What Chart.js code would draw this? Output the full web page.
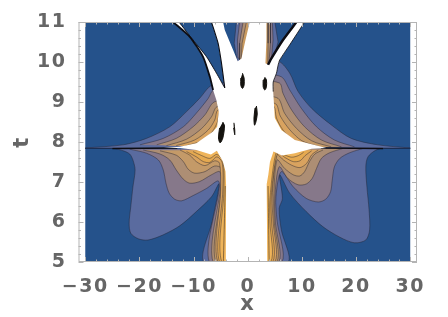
<!DOCTYPE html>
<html>
<head>
<meta charset="utf-8">
<style>
html, body { margin: 0; padding: 0; background: #fff; }
#wrap { width: 448px; height: 317px; }
</style>
<script src="https://cdn.jsdelivr.net/npm/chart.js@4"></script>
</head>
<body>
<div id="wrap"><canvas id="c"></canvas></div>
<script>
const xTicks = [-30, -20, -10, 0, 10, 20, 30];
const yTicks = [5, 6, 7, 8, 9, 10, 11];
const levelColors = ["#5a6b9f", "#86788a", "#ad8e74", "#c49a68", "#d9a35f", "#e5a950", "#efb45a"];

// contour bands, one list per level, outermost first
const lowerLeft = [
  [[-30,7.84],[-24.8,7.84],[-23,7.78],[-21.8,7.7],[-21.2,7.55],[-20.8,7.3],[-21.2,6.88],[-21.6,6.38],[-21.9,5.97],[-21.6,5.72],[-20.2,5.58],[-18.4,5.55],[-15.6,5.68],[-12.5,5.91],[-9.5,6.26],[-6.7,6.63],[-5.3,6.95],[-6.5,6.05],[-8.1,5],[0,5],[0,7.84]],
  [[-21.8,7.82],[-18.7,7.72],[-16.5,7.55],[-15.6,7.3],[-15.1,6.97],[-14.5,6.72],[-13.5,6.57],[-12.2,6.53],[-10.1,6.66],[-7.6,6.84],[-5.5,7.03],[-5.2,6.9],[-7.1,5],[0,5],[0,7.82]],
  [[-19.3,7.8],[-16.2,7.7],[-14.4,7.55],[-13.2,7.3],[-11.9,7.07],[-10.7,6.97],[-8.9,7.01],[-6.7,7.18],[-5.2,7.26],[-4.9,7],[-6.4,5],[0,5],[0,7.8]],
  [[-16.2,7.78],[-13.2,7.67],[-11.9,7.51],[-11,7.32],[-9.8,7.22],[-7.9,7.26],[-6.1,7.4],[-4.85,7.34],[-4.8,6.9],[-5.9,5],[0,5],[0,7.78]],
  [[-12.5,7.8],[-10.7,7.67],[-9.5,7.51],[-7.9,7.41],[-6.1,7.53],[-5.2,7.47],[-5,6.8],[-5.5,5],[0,5],[0,7.8]],
  [[-11.3,7.76],[-9.5,7.63],[-8.2,7.51],[-7,7.49],[-5.7,7.63],[-4.7,7.48],[-4.6,6.8],[-5.2,5],[0,5],[0,7.76]],
  [[-10.1,7.76],[-8.5,7.66],[-7,7.59],[-5.7,7.69],[-4.55,7.51],[-4.4,6.8],[-4.8,5],[0,5],[0,7.76]]
];
const lowerRight = [
  [[30,7.84],[25.6,7.86],[23.7,7.8],[22.2,7.63],[21.8,7.38],[22,6.88],[22.4,6.3],[22.5,5.8],[21.8,5.55],[19.7,5.48],[17,5.62],[13.9,5.88],[10.8,6.26],[7.75,6.72],[5.9,7.18],[6.4,6.59],[5.8,6.34],[6.2,5.8],[7.45,5],[0,5],[0,7.84]],
  [[21.3,7.84],[18.8,7.73],[17,7.59],[16,7.38],[15.6,7.05],[15.3,6.76],[14.4,6.57],[13,6.5],[10.8,6.59],[8.4,6.88],[6.2,7.26],[5.2,6.63],[5.4,6.05],[6.3,5],[0,5],[0,7.84]],
  [[17.6,7.84],[15.1,7.73],[13.6,7.59],[12.7,7.34],[11.9,7.09],[10.8,6.95],[9.3,6.93],[7.4,7.09],[5.8,7.38],[5,6.6],[5.1,6],[5.7,5],[0,5],[0,7.84]],
  [[13.9,7.8],[12.4,7.7],[11.4,7.51],[10.5,7.26],[9.6,7.15],[8.4,7.18],[6.8,7.34],[5.4,7.55],[4.8,6.6],[4.9,6],[5.35,5],[0,5],[0,7.8]],
  [[13,7.8],[11.8,7.68],[10.9,7.47],[9.65,7.36],[8.1,7.42],[6.6,7.55],[5.35,7.68],[4.5,6.6],[4.7,6],[5,5],[0,5],[0,7.8]],
  [[11.8,7.78],[10.6,7.66],[9.65,7.53],[8.4,7.51],[6.9,7.61],[5.5,7.72],[4.3,6.6],[4.4,6],[4.6,5],[0,5],[0,7.78]],
  [[10.3,7.74],[9.35,7.66],[8.1,7.62],[6.8,7.68],[5.35,7.78],[4.1,6.6],[4.1,6],[4.25,5],[0,5],[0,7.74]]
];
const upperLeft = [
  [[-30,7.85],[-23,7.93],[-18.7,8.09],[-14.4,8.38],[-11.3,8.76],[-8.9,9.09],[-6.6,9.42],[-3,9.42],[-3,7.85]],
  [[-19.9,7.93],[-15.6,8.09],[-11.9,8.38],[-9.5,8.72],[-7.3,9.09],[-6.3,9.3],[-3,9.3],[-3,7.85]],
  [[-16.8,7.93],[-13.2,8.09],[-10.1,8.38],[-7.9,8.68],[-6.2,9],[-3,9],[-3,7.85]],
  [[-15,7.91],[-11.3,8.07],[-8.5,8.34],[-6.7,8.63],[-5.7,8.88],[-3,8.88],[-3,7.85]],
  [[-13.2,7.91],[-9.8,8.05],[-7.3,8.3],[-6.1,8.55],[-5.5,8.8],[-3,8.8],[-3,7.85]],
  [[-11.5,7.9],[-8.5,8.03],[-6.6,8.25],[-5.6,8.5],[-5.1,8.75],[-3,8.75],[-3,7.85]],
  [[-9.5,7.9],[-7.2,8.02],[-5.8,8.2],[-5,8.45],[-4.8,8.7],[-3,8.7],[-3,7.85]]
];
const upperRight = [
  [[30,7.85],[24,7.93],[19.1,8.09],[15.4,8.43],[11.8,8.84],[9.3,9.26],[7.75,9.72],[5.8,10.01],[3,10.01],[3,7.85]],
  [[19.7,7.88],[16,8.05],[12.7,8.38],[9.9,8.84],[7.75,9.3],[6.2,9.63],[3,9.63],[3,7.85]],
  [[17.3,7.88],[13.6,8.05],[10.5,8.38],[8.1,8.8],[6.5,9.22],[5.9,9.47],[3,9.47],[3,7.85]],
  [[15.4,7.88],[11.8,8.03],[9,8.34],[6.8,8.72],[5.6,9.09],[3,9.09],[3,7.85]],
  [[13.2,7.88],[10,8.03],[7.8,8.3],[6,8.65],[5.2,8.95],[3,8.95],[3,7.85]],
  [[11,7.88],[8.4,8.02],[6.5,8.3],[5.3,8.6],[4.8,8.9],[3,8.9],[3,7.85]],
  [[9,7.88],[6.8,8.02],[5.5,8.25],[4.7,8.55],[4.5,8.8],[3,8.8],[3,7.85]]
];
// the narrow bands hanging from the top edge
const topWedgeLeft = [
  [[-2.1,11],[-2.5,10.47],[-1.9,10],[0.5,10],[0.5,11]],
  [[-1.5,11],[-1.9,10.55],[-1.8,10.1],[0.5,10],[0.5,11]],
  [[-0.87,11],[-1.5,10.47],[-1.5,10.05],[0.5,10],[0.5,11]],
  [[-0.25,11],[-1.05,10.47],[-1.2,10.05],[0.5,10],[0.5,11]]
];
const topWedgeRight = [
  [[5,11],[5.6,10.5],[5,10.2],[4.3,10.05],[3,9.9],[3,11]],
  [[4.55,11],[4.67,10.55],[4.4,10.1],[3,9.9],[3,11]],
  [[4.2,11],[4.2,10.47],[3.9,9.97],[3,9.9],[3,11]],
  [[3.75,11],[3.75,10.47],[3.7,9.95],[3,9.9],[3,11]]
];
const wedgeColors = ["#5a6b9f", "#86788a", "#ad8e74", "#c99a60"];

const plotBlue = [[-30,5],[30,5],[30,11],[-30,11]];
const whiteCore = [
  [-13.8,11],[-10.7,10.63],[-8.25,10.13],[-7,9.63],[-6.4,9.3],[-5.8,9.05],[-5.35,8.76],[-5.65,8.38],[-6.4,8.26],[-9.5,7.97],[-12.5,7.88],[-15.5,7.85],
  [-12.5,7.85],[-9.5,7.8],[-6.8,7.69],[-5.7,7.78],[-4.6,7.51],[-4.1,7.26],[-4,6.93],[-4.05,5],
  [3.6,5],[3.5,6.95],[3.8,7.18],[4.1,7.5],[4.75,7.76],[6.3,7.66],[8.7,7.72],[11.8,7.83],[14.5,7.85],
  [13.6,7.88],[8.7,8.05],[6.2,8.3],[5,8.6],[4.7,9.26],[4.7,9.5],[5.3,9.72],[5.6,9.92],[5.9,10.05],[7.75,10.43],[10.5,11],
  [9,11],[6.5,10.55],[4.37,10.09],[3.75,9.93],[3.27,9.97],[3.45,10.55],[3.45,11],
  [0.37,11],[-0.42,10.55],[-1.16,10.09],[-1.85,10.02],[-2.7,10.3],[-4.24,10.8],[-4.55,11],
  [-6.7,11],[-5.48,10.47],[-4.85,9.97],[-4.24,9.35],[-5.77,9.72],[-7.6,10.13],[-10.1,10.55],[-12.7,11]
];
// dark edges of the white branches
const darkEdges = [
  [[-13.8,11],[-10.7,10.63],[-8.25,10.13],[-7,9.63],[-6.4,9.3]],
  [[-12.7,11],[-10.1,10.55],[-7.6,10.13],[-5.77,9.72],[-4.24,9.35]],
  [[-6.7,11],[-5.48,10.47],[-4.85,9.97],[-4.24,9.35]],
  [[9,11],[6.5,10.55],[4.37,10.09],[3.75,9.93]],
  [[10.5,11],[7.75,10.43],[5.9,10.05],[5.6,9.92],[5.3,9.72],[4.7,9.5],[4.7,9.26]]
];
const darkEdgeWidths = [1.8, 0.9, 1.1, 2.4, 0.8];
const spikeEnds = [
  [[-30,7.84],[-25,7.84]],
  [[25,7.84],[30,7.84]]
];
const spikes = [
  [[-25,7.84],[-13,7.85]],
  [[13.5,7.85],[25,7.84]]
];
// extra thin contours in the orange strips beside the trunk
const stripLines = [
  [[-4.15,6.9],[-4.5,5]],
  [[3.75,6.9],[3.95,5]]
];
// small dark holes inside the white area
const holes = [
  [[-0.98,9.72],[-0.68,9.6],[-0.68,9.42],[-0.98,9.34],[-1.28,9.42],[-1.28,9.6]],
  [[3.15,9.62],[3.45,9.55],[3.45,9.38],[3.15,9.3],[2.85,9.38],[2.85,9.55]],
  [[1.6,8.9],[1.75,8.7],[1.5,8.5],[1.25,8.42],[1.15,8.6],[1.35,8.85]],
  [[-2.55,8.48],[-2.4,8.3],[-2.4,8.18],[-2.6,8.35]],
  [[-4.6,8.5],[-4.3,8.4],[-4.6,8.1],[-5.1,7.98],[-5.4,8.1],[-5.2,8.35]]
];

function band(points, color, tension) {
  return {
    data: points,
    showLine: true,
    pointRadius: 0,
    borderColor: "rgba(35,35,50,0.75)",
    borderWidth: 0.6,
    backgroundColor: color,
    fill: "shape",
    tension: tension
  };
}
function edge(points, width, color) {
  return { data: points, showLine: true, pointRadius: 0, borderColor: color || "#0c0c12", borderWidth: width, fill: false, tension: 0.2 };
}

let layers = [];
layers.push({ data: plotBlue, showLine: true, pointRadius: 0, borderWidth: 0, backgroundColor: "#25528b", fill: "shape" });
[lowerLeft, lowerRight, upperLeft, upperRight].forEach(function (side) {
  side.forEach(function (pts, i) { layers.push(band(pts, levelColors[i], 0.3)); });
});
topWedgeLeft.forEach(function (pts, i) { layers.push(band(pts, wedgeColors[i], 0)); });
topWedgeRight.forEach(function (pts, i) { layers.push(band(pts, wedgeColors[i], 0)); });
stripLines.forEach(function (pts) { layers.push(edge(pts, 0.7, "rgba(60,45,30,0.8)")); });
spikeEnds.forEach(function (pts) { layers.push(edge(pts, 1.2, "#1c2f52")); });
spikes.forEach(function (pts) { layers.push(edge(pts, 1.5)); });
layers.push({ data: whiteCore, showLine: true, pointRadius: 0, borderWidth: 0, backgroundColor: "#fff", fill: "shape" });
darkEdges.forEach(function (pts, i) { layers.push(edge(pts, darkEdgeWidths[i])); });
holes.forEach(function (pts) {
  layers.push({ data: pts, showLine: true, pointRadius: 0, borderColor: "#14120e", borderWidth: 1, backgroundColor: "#14120e", fill: "shape", tension: 0.3 });
});

// frame and inward tick marks, as Mathematica draws them
const framePlugin = {
  id: "frame",
  beforeDraw(chart) { chart.ctx.letterSpacing = "1.5px"; },
  afterDatasetsDraw(chart) {
    const ctx = chart.ctx, a = chart.chartArea, xs = chart.scales.x, ys = chart.scales.y;
    ctx.save();
    ctx.strokeStyle = "#b4b4b4";
    ctx.lineWidth = 1;
    ctx.strokeRect(a.left + 0.5, a.top + 0.5, a.width - 1, a.height - 1);
    ctx.beginPath();
    for (let v = -30; v <= 30; v += 2) {
      const len = v % 10 == 0 ? 5 : 2.5, px = Math.round(xs.getPixelForValue(v)) + 0.5;
      ctx.moveTo(px, a.bottom); ctx.lineTo(px, a.bottom - len);
      ctx.moveTo(px, a.top); ctx.lineTo(px, a.top + len);
    }
    for (let k = 0; k <= 30; k++) {
      const v = 5 + k * 0.2, len = k % 5 == 0 ? 5 : 2.5, py = Math.round(ys.getPixelForValue(v)) + 0.5;
      ctx.moveTo(a.left, py); ctx.lineTo(a.left + len, py);
      ctx.moveTo(a.right, py); ctx.lineTo(a.right - len, py);
    }
    ctx.stroke();
    ctx.restore();
  }
};

const labelFont = { family: "DejaVu Sans", weight: "bold", size: 19 };

new Chart(document.getElementById("c"), {
  type: "scatter",
  data: { datasets: layers.reverse() },
  plugins: [framePlugin],
  options: {
    responsive: true,
    maintainAspectRatio: false,
    animation: false,
    layout: { padding: { top: 22, right: 31, left: 10, bottom: 0 } },
    plugins: { legend: { display: false }, tooltip: { enabled: false } },
    scales: {
      x: {
        type: "linear",
        min: -31.25,
        max: 31.25,
        grid: { display: false },
        border: { display: false },
        afterBuildTicks(scale) { scale.ticks = xTicks.map(function (v) { return { value: v }; }); },
        afterFit(scale) { scale.height = 55; },
        ticks: {
          autoSkip: false,
          maxRotation: 0,
          padding: 6,
          color: "#666",
          font: labelFont,
          callback: function (v) { return String(v).replace("-", "\u2212"); }
        },
        title: { display: true, text: "x", color: "#666", font: { family: "DejaVu Sans", weight: "bold", size: 21 }, padding: { top: 5, bottom: 0 } }
      },
      y: {
        type: "linear",
        min: 5,
        max: 11,
        grid: { display: false },
        border: { display: false },
        afterBuildTicks(scale) { scale.ticks = yTicks.map(function (v) { return { value: v }; }); },
        afterFit(scale) { scale.width = 68.5; },
        ticks: { padding: 4, color: "#666", font: labelFont },
        title: { display: true, text: "t", color: "#666", font: { family: "DejaVu Sans", weight: "bold", size: 21 }, padding: { top: 0, bottom: 0 } }
      }
    }
  }
});
</script>
</body>
</html>
